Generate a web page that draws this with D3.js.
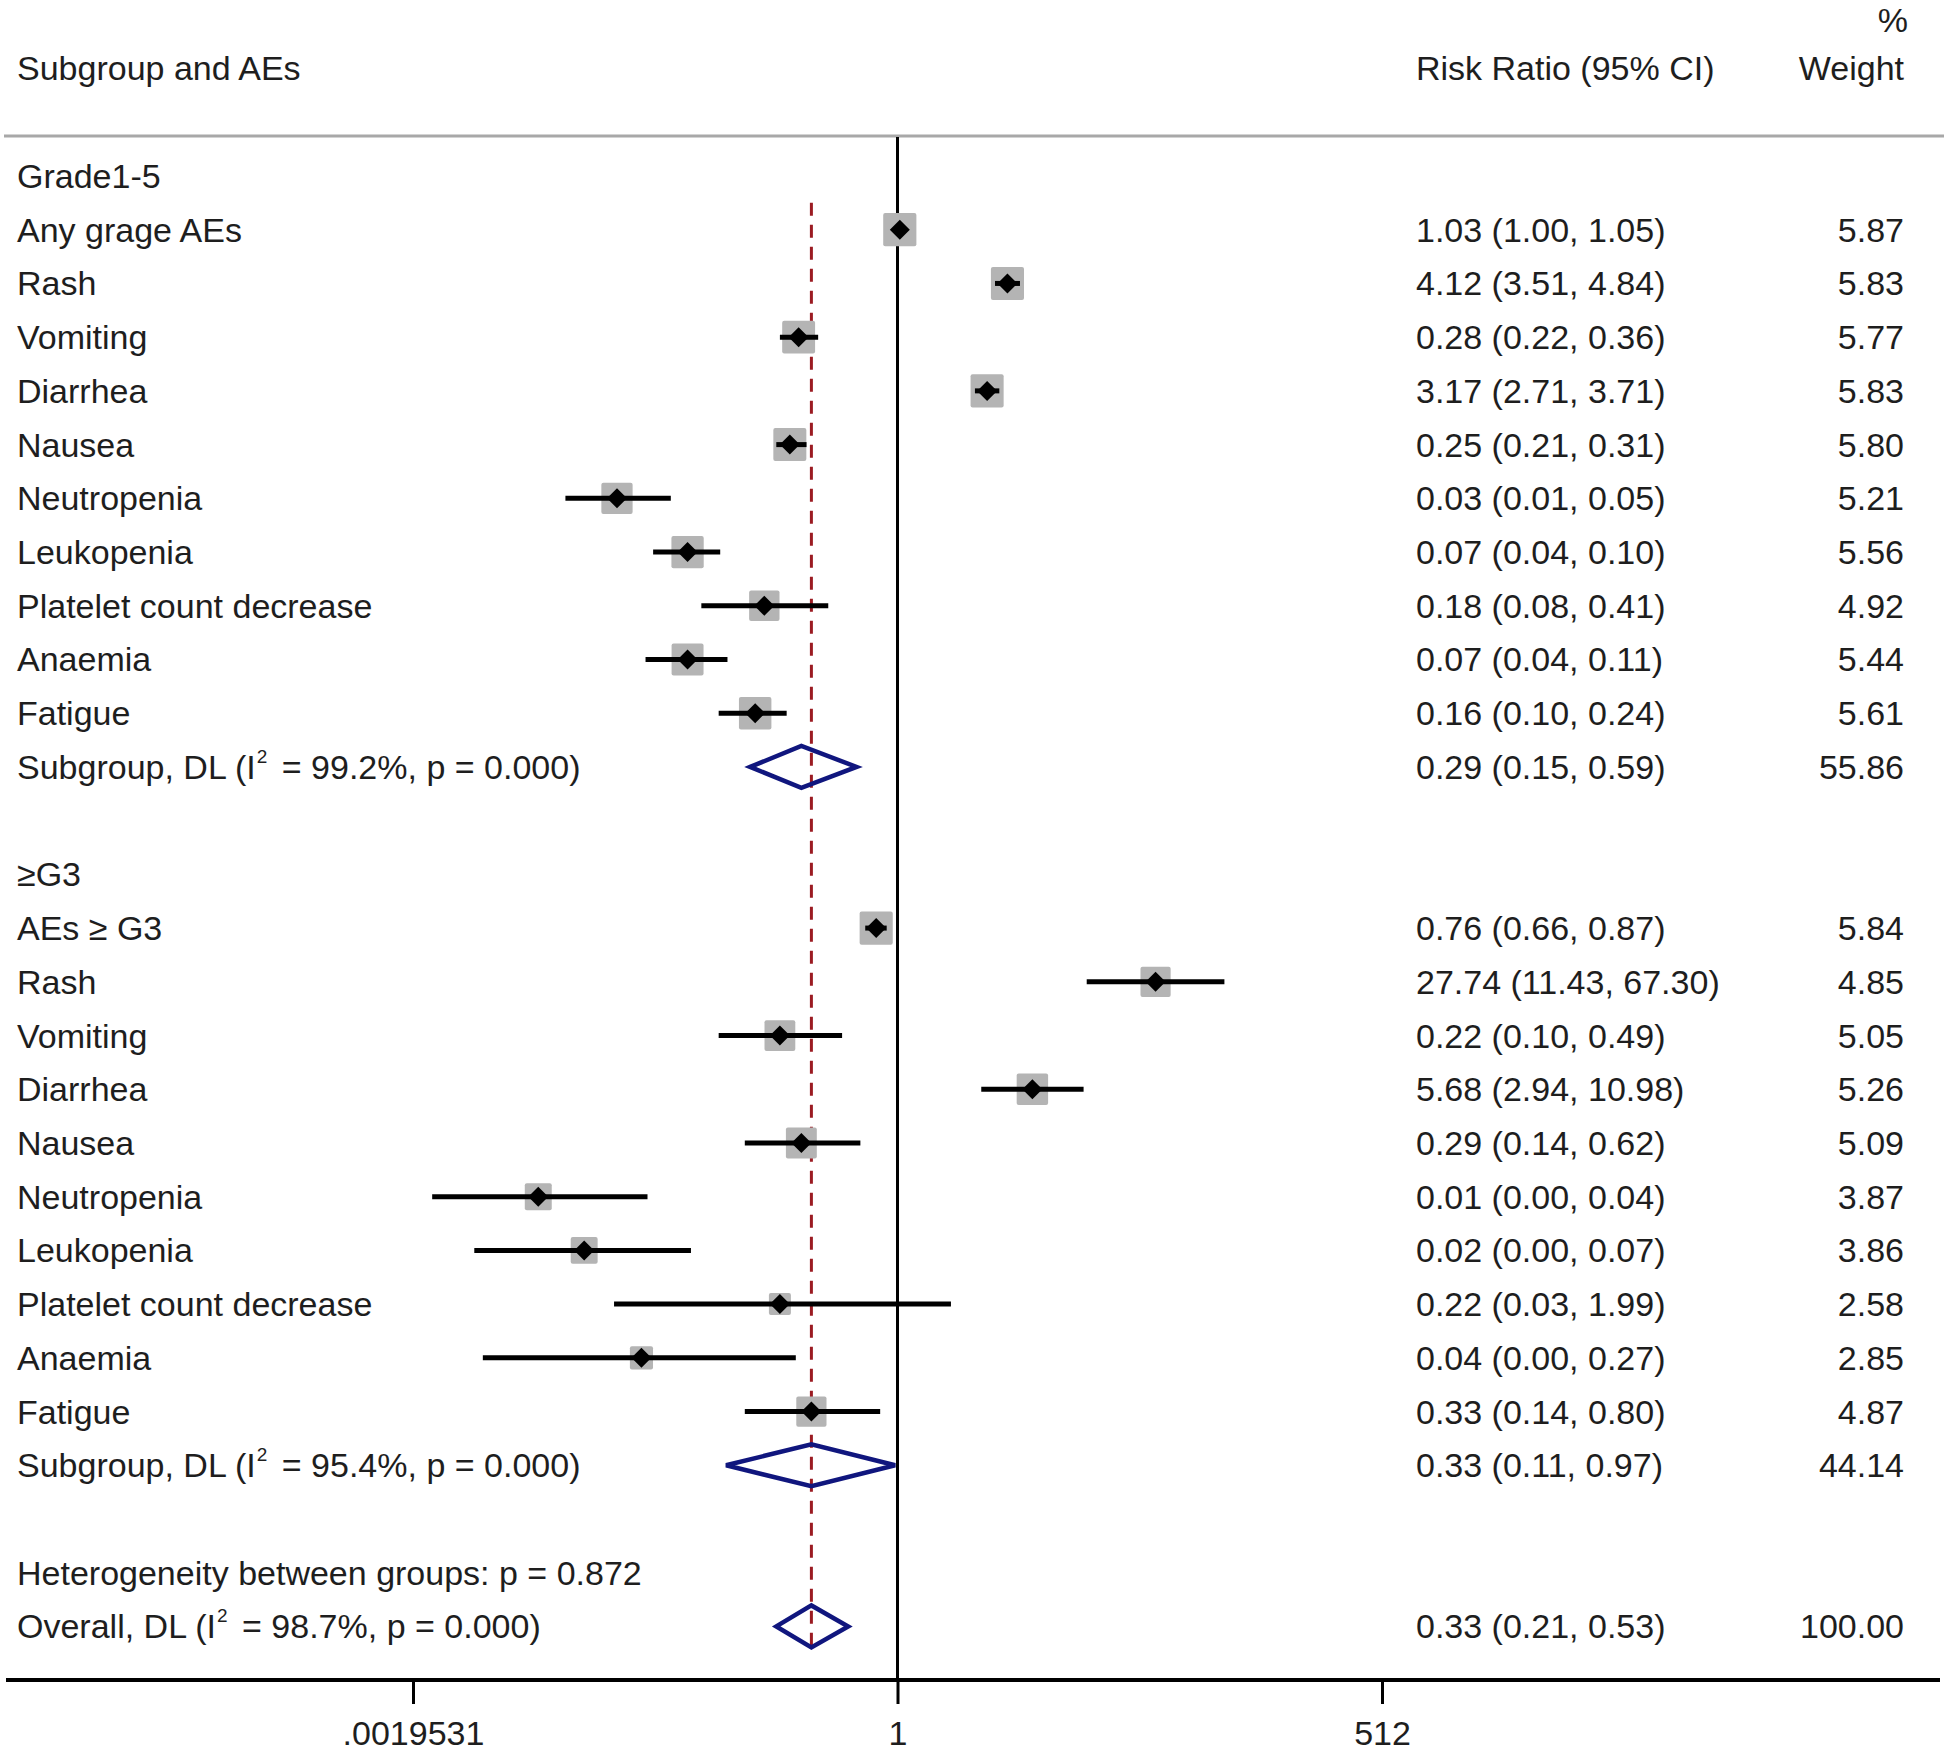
<!DOCTYPE html>
<html><head><meta charset="utf-8">
<script src="https://cdn.jsdelivr.net/npm/d3@7"></script>
<style>
html,body{margin:0;padding:0;background:#fff;}
svg text{font-family:"Liberation Sans",Arial,sans-serif;fill:#1e1e1e;}
</style></head>
<body>
<svg id="chart" width="1944" height="1752"></svg>
<script>
// ---------------- data ----------------
const g15Names = ["Any grage AEs","Rash","Vomiting","Diarrhea","Nausea","Neutropenia","Leukopenia","Platelet count decrease","Anaemia","Fatigue"];
const g15RR = [1.03, 4.12, 0.28, 3.17, 0.25, 0.027, 0.067, 0.18, 0.067, 0.16];
const g15Lo = [1.00, 3.51, 0.22, 2.71, 0.21, 0.0139, 0.043, 0.08, 0.039, 0.10];
const g15Hi = [1.05, 4.84, 0.36, 3.71, 0.31, 0.054, 0.102, 0.41, 0.112, 0.24];
const g15Wt = [5.87, 5.83, 5.77, 5.83, 5.80, 5.21, 5.56, 4.92, 5.44, 5.61];

const g3Names = ["AEs \u2265 G3","Rash","Vomiting","Diarrhea","Nausea","Neutropenia","Leukopenia","Platelet count decrease","Anaemia","Fatigue"];
const g3RR = [0.76, 27.74, 0.22, 5.68, 0.29, 0.0098, 0.0177, 0.22, 0.037, 0.33];
const g3Lo = [0.66, 11.43, 0.10, 2.94, 0.14, 0.0025, 0.0043, 0.026, 0.0048, 0.14];
const g3Hi = [0.87, 67.30, 0.49, 10.98, 0.62, 0.040, 0.070, 1.99, 0.27, 0.80];
const g3Wt = [5.84, 4.85, 5.05, 5.26, 5.09, 3.87, 3.86, 2.58, 2.85, 4.87];

const groupTitles = ["Grade1-5", "\u2265G3"];
const pooledLabels = ["Subgroup, DL (I", "Subgroup, DL (I", "Overall, DL (I"];
const pooledI2 = ["99.2%", "95.4%", "98.7%"];
const pooledP = ["0.000", "0.000", "0.000"];
const pooledRR = [0.29, 0.33, 0.33];
const pooledLo = [0.15, 0.11, 0.21];
const pooledHi = [0.59, 0.97, 0.53];
const pooledWt = [55.86, 44.14, 100.00];
const heterogeneityText = "Heterogeneity between groups: p = 0.872";

const tickValues = [Math.pow(2,-9), 1, 512];
const tickLabels = [".0019531", "1", "512"];
const headers = {label: "Subgroup and AEs", rr: "Risk Ratio (95% CI)", wt1: "%", wt2: "Weight"};

// ---------------- layout ----------------
const svg = d3.select("#chart");
const FS = 34;
const row0 = 176, rowH = 53.72;
const yRow = i => row0 + i * rowH;
const x = d3.scaleLog().base(2).domain([Math.pow(2,-9), 512]).range([413, 1382]);
const labelX = 17, rrX = 1416, wtX = 1904;
const axisY = 1680, topLineY = 136;
const boxK = 13.7;
const fmt = v => v.toFixed(2);

// build rows
const rows = [];
rows.push({type:"title", text:groupTitles[0], i:0});
g15Names.forEach((n,k)=>rows.push({type:"study", text:n, rr:g15RR[k], lo:g15Lo[k], hi:g15Hi[k], wt:g15Wt[k], i:1+k}));
rows.push({type:"pooled", p:0, i:11});
rows.push({type:"title", text:groupTitles[1], i:13});
g3Names.forEach((n,k)=>rows.push({type:"study", text:n, rr:g3RR[k], lo:g3Lo[k], hi:g3Hi[k], wt:g3Wt[k], i:14+k}));
rows.push({type:"pooled", p:1, i:24});
rows.push({type:"het", text:heterogeneityText, i:26});
rows.push({type:"pooled", p:2, i:27});

// header
svg.append("text").attr("x",labelX).attr("y",80).attr("font-size",FS).text(headers.label);
svg.append("text").attr("x",rrX).attr("y",80).attr("font-size",FS).text(headers.rr);
svg.append("text").attr("x",wtX+4).attr("y",32).attr("font-size",FS).attr("text-anchor","end").text(headers.wt1);
svg.append("text").attr("x",wtX).attr("y",80).attr("font-size",FS).attr("text-anchor","end").text(headers.wt2);
svg.append("line").attr("x1",4).attr("x2",1944).attr("y1",topLineY).attr("y2",topLineY)
  .attr("stroke","#a8a8a8").attr("stroke-width",3);

// null line at 1
svg.append("line").attr("x1",x(1)).attr("x2",x(1)).attr("y1",topLineY+1).attr("y2",axisY)
  .attr("stroke","#000").attr("stroke-width",3);

// overall dashed line
svg.append("line").attr("x1",x(pooledRR[2])).attr("x2",x(pooledRR[2]))
  .attr("y1",yRow(1)-27).attr("y2",yRow(27)+23)
  .attr("stroke","#9b1b22").attr("stroke-width",3).attr("stroke-dasharray","13,9");

// studies
const studies = rows.filter(r=>r.type==="study");
const gS = svg.append("g");
studies.forEach(r=>{
  const y = yRow(r.i), s = boxK*Math.sqrt(r.wt);
  gS.append("rect").attr("x",x(r.rr)-s/2).attr("y",y-s/2).attr("width",s).attr("height",s)
    .attr("rx",2).attr("fill","#b4b4b4");
});
studies.forEach(r=>{
  const y = yRow(r.i);
  gS.append("line").attr("x1",x(r.lo)).attr("x2",x(r.hi)).attr("y1",y).attr("y2",y)
    .attr("stroke","#000").attr("stroke-width",5);
  const cx = x(r.rr), h=10;
  gS.append("path").attr("d",`M${cx-h},${y}L${cx},${y-h}L${cx+h},${y}L${cx},${y+h}Z`).attr("fill","#000");
});

// pooled diamonds
rows.filter(r=>r.type==="pooled").forEach(r=>{
  const y = yRow(r.i), p = r.p, hh = 21;
  svg.append("path")
    .attr("d",`M${x(pooledLo[p])},${y}L${x(pooledRR[p])},${y-hh}L${x(pooledHi[p])},${y}L${x(pooledRR[p])},${y+hh}Z`)
    .attr("fill","none").attr("stroke","#10167e").attr("stroke-width",4.5).attr("stroke-linejoin","miter");
});

// texts
rows.forEach(r=>{
  const yb = yRow(r.i) + 12;
  if (r.type==="title" || r.type==="het") {
    svg.append("text").attr("x",labelX).attr("y",yb).attr("font-size",FS).text(r.text);
  } else if (r.type==="study") {
    svg.append("text").attr("x",labelX).attr("y",yb).attr("font-size",FS).text(r.text);
    svg.append("text").attr("x",rrX).attr("y",yb).attr("font-size",FS)
      .text(`${fmt(r.rr)} (${fmt(r.lo)}, ${fmt(r.hi)})`);
    svg.append("text").attr("x",wtX).attr("y",yb).attr("font-size",FS).attr("text-anchor","end").text(fmt(r.wt));
  } else if (r.type==="pooled") {
    const p = r.p;
    const t = svg.append("text").attr("x",labelX).attr("y",yb).attr("font-size",FS);
    t.append("tspan").text(pooledLabels[p]);
    t.append("tspan").attr("font-size",19).attr("dx",1).attr("dy",-16).text("2");
    t.append("tspan").attr("dx",5).attr("dy",16).text(` = ${pooledI2[p]}, p = ${pooledP[p]})`);
    svg.append("text").attr("x",rrX).attr("y",yb).attr("font-size",FS)
      .text(`${fmt(pooledRR[p])} (${fmt(pooledLo[p])}, ${fmt(pooledHi[p])})`);
    svg.append("text").attr("x",wtX).attr("y",yb).attr("font-size",FS).attr("text-anchor","end").text(fmt(pooledWt[p]));
  }
});

// axis
const ax = svg.append("g").attr("transform",`translate(0,${axisY})`)
  .call(d3.axisBottom(x).tickValues(tickValues).tickFormat((d,i)=>tickLabels[i]).tickSize(24));
ax.select(".domain").remove();
ax.selectAll(".tick line").attr("stroke","#000").attr("stroke-width",3);
ax.selectAll(".tick text").attr("font-size",FS).attr("font-family","Liberation Sans, Arial, sans-serif")
  .attr("fill","#1e1e1e").attr("y",65).attr("dy",0);
svg.append("line").attr("x1",6).attr("x2",1940).attr("y1",axisY).attr("y2",axisY)
  .attr("stroke","#000").attr("stroke-width",4);
</script>
</body></html>
